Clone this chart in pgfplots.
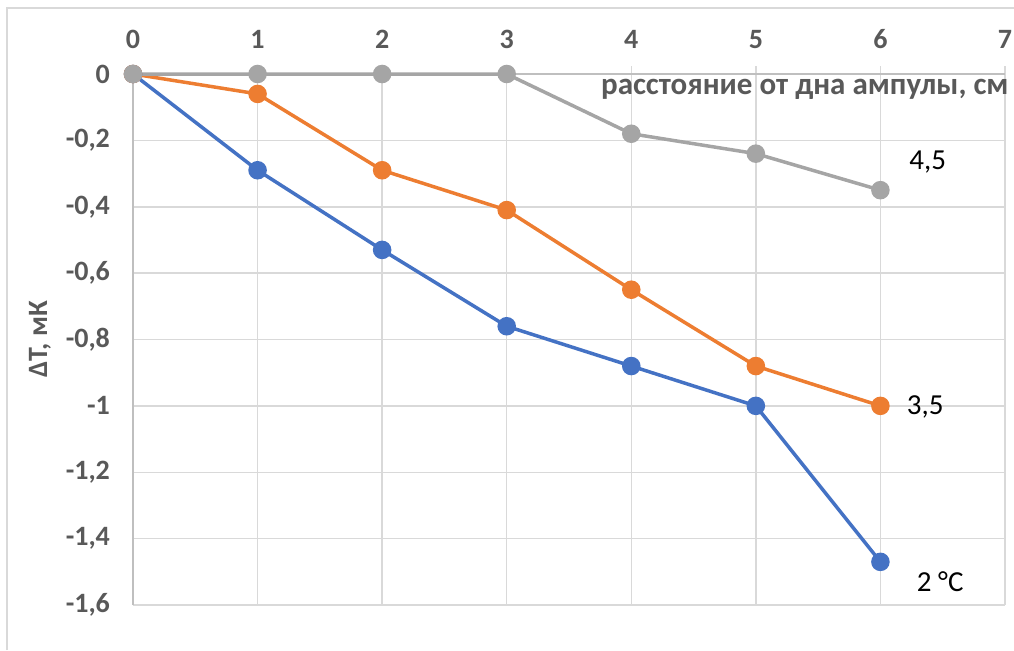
\documentclass[border=0pt]{standalone}
\usepackage{fontspec}
\setmainfont{Carlito}
\usepackage{pgfplots}
\pgfplotsset{compat=1.18}
\definecolor{cblue}{HTML}{4472C4}
\definecolor{corange}{HTML}{ED7D31}
\definecolor{cgray}{HTML}{A5A5A5}
\definecolor{gridc}{HTML}{D9D9D9}
\definecolor{axc}{HTML}{BFBFBF}
\definecolor{txt}{HTML}{595959}
\begin{document}
\begin{tikzpicture}
\useasboundingbox (0,0) rectangle (507pt,325pt);
\draw[color=gridc, line width=0.75pt] (3.5pt,0) -- (3.5pt,321pt) -- (507pt,321pt);
\begin{axis}[
  at={(66.5pt,22.5pt)}, anchor=south west,
  scale only axis, width=436pt, height=265.5pt,
  xmin=0, xmax=7, ymin=-1.6, ymax=0,
  xtick={0,1,2,3,4,5,6,7},
  ytick={-1.6,-1.4,-1.2,-1,-0.8,-0.6,-0.4,-0.2,0},
  axis x line*=top, axis y line*=left,
  axis line style={draw=axc, line width=0.75pt},
  grid=major,
  major grid style={draw=gridc, line width=0.75pt},
  xtick align=outside,
  xtick style={draw=gridc, line width=0.75pt},
  major tick length=4pt,
  ytick style={draw=none},
  /pgf/number format/assume math mode=true,
  /pgf/number format/.cd, use comma, fixed, precision=1,
  /pgfplots/.cd,
  tick label style={font=\fontsize{14}{16}\selectfont\bfseries, text=txt},
  xticklabel style={yshift=5pt},
  yticklabel style={xshift=-8pt},
  clip=false,
]
\addplot[cblue, line width=1.75pt, mark=*, mark size=3.75pt, mark options={fill=cblue, draw=cblue}]
  coordinates {(0,0) (1,-0.29) (2,-0.53) (3,-0.76) (4,-0.88) (5,-1.0) (6,-1.47)};
\addplot[corange, line width=1.75pt, mark=*, mark size=3.75pt, mark options={fill=corange, draw=corange}]
  coordinates {(0,0) (1,-0.06) (2,-0.29) (3,-0.41) (4,-0.65) (5,-0.88) (6,-1.0)};
\addplot[cgray, line width=1.75pt, mark=*, mark size=3.75pt, mark options={fill=cgray, draw=cgray}]
  coordinates {(0,0) (1,0) (2,0) (3,0) (4,-0.18) (5,-0.24) (6,-0.35)};
\node[font=\fontsize{14.5}{16}\selectfont] at (axis cs:6.38,-0.265) {4,5};
\node[font=\fontsize{14.5}{16}\selectfont] at (axis cs:6.36,-1.003) {3,5};
\node[font=\fontsize{14.5}{16}\selectfont] at (axis cs:6.48,-1.53) {2 °C};
\node[anchor=north east, inner sep=0pt, font=\fontsize{15.5}{17}\selectfont\bfseries, text=txt] at ([xshift=2pt,yshift=-2.5pt]rel axis cs:1,1) {расстояние от дна ампулы, см};
\node[rotate=90, inner sep=0pt, font=\fontsize{14}{16}\selectfont\bfseries, text=txt] at ([xshift=-46.5pt]rel axis cs:0,0.5) {ΔT, мК};
\end{axis}
\end{tikzpicture}
\end{document}
